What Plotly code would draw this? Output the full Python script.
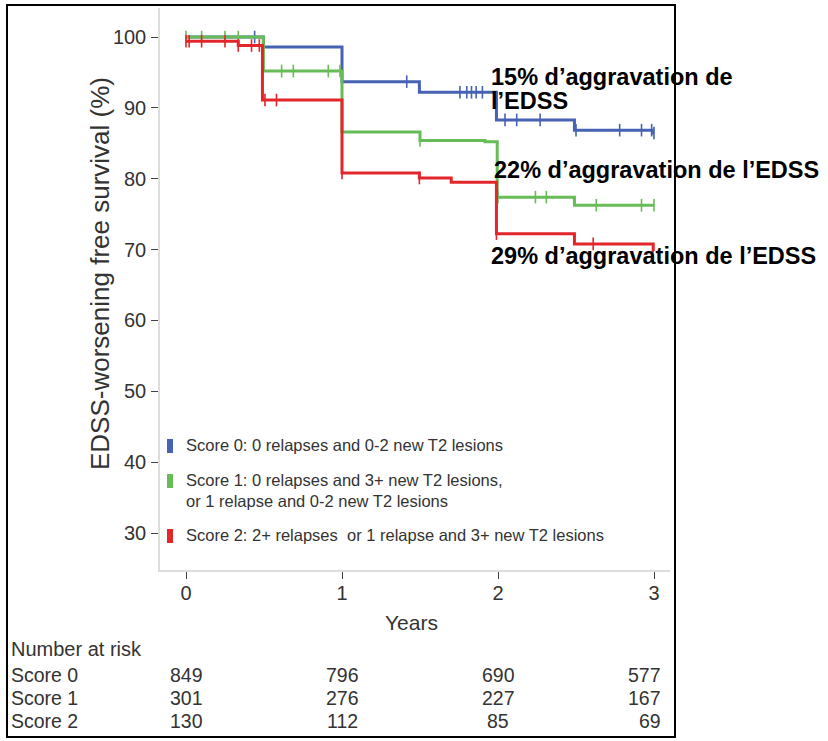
import plotly.graph_objects as go

# ---------------- data ----------------
groups = ["Score 0", "Score 1", "Score 2"]
legend_labels = [
    "Score 0: 0 relapses and 0-2 new T2 lesions",
    "Score 1: 0 relapses and 3+ new T2 lesions,<br>or 1 relapse and 0-2 new T2 lesions",
    "Score 2: 2+ relapses  or 1 relapse and 3+ new T2 lesions",
]
colors = ["#4761B3", "#68BC57", "#E2262B"]

# Kaplan-Meier step points (time in years, survival %)
s0_times = [0.0, 0.496, 1.0, 1.496, 1.99, 2.49, 2.99, 3.0]
s0_surv = [100.0, 98.6, 93.7, 92.2, 88.3, 86.85, 86.45, 86.45]
s1_times = [0.0, 0.496, 1.0, 1.5, 1.917, 1.995, 2.49, 3.0]
s1_surv = [100.0, 95.2, 86.6, 85.4, 85.2, 77.4, 76.25, 76.25]
s2_times = [0.0, 0.335, 0.49, 1.0, 1.496, 1.70, 1.99, 2.49, 2.995, 3.0]
s2_surv = [99.4, 98.8, 91.1, 80.8, 80.1, 79.5, 72.25, 70.8, 69.8, 69.8]

# censoring times
s0_cens = [0.44, 1.415, 1.756, 1.80, 1.83, 1.86, 1.90, 2.045, 2.12, 2.27, 2.50, 2.78, 2.92, 2.985, 3.0]
s1_cens = [0.0, 0.10, 0.25, 0.335, 0.613, 0.688, 0.912, 0.987, 1.0, 1.5, 2.0, 2.24, 2.31, 2.63, 2.92, 3.0]
s2_cens = [0.0, 0.02, 0.10, 0.25, 0.335, 0.42, 0.47, 0.506, 0.58, 1.0, 1.496, 1.99, 2.61]

# number at risk
risk_years = [0, 1, 2, 3]
risk_s0 = [849, 796, 690, 577]
risk_s1 = [301, 276, 227, 167]
risk_s2 = [130, 112, 85, 69]

annot_texts = ["15% d’aggravation de", "l’EDSS",
               "22% d’aggravation de l’EDSS", "29% d’aggravation de l’EDSS"]

y_ticks = [30, 40, 50, 60, 70, 80, 90, 100]
x_ticks = [0, 1, 2, 3]

# ---------------- layout helpers ----------------
W, H = 828, 741
L, R, T, B = 160, 670, 8, 570  # plot area in pixels
FONT = "Liberation Sans, Arial, Helvetica, sans-serif"
TXT = "#333333"


def px(x):
    return (x - L) / (R - L)


def py(y):
    return (B - y) / (B - T)


def step_value(times, surv, t):
    v = surv[0]
    for ti, si in zip(times, surv):
        if ti <= t + 1e-9:
            v = si
    return v


fig = go.Figure()
series = [(s0_times, s0_surv, s0_cens), (s1_times, s1_surv, s1_cens), (s2_times, s2_surv, s2_cens)]
for i, (tt, ss, cc) in enumerate(series):
    fig.add_trace(go.Scatter(x=tt, y=ss, mode="lines", line=dict(color=colors[i], width=3, shape="hv"),
                             name=groups[i], showlegend=False, hoverinfo="skip"))
    fig.add_trace(go.Scatter(x=cc, y=[step_value(tt, ss, c) for c in cc], mode="markers",
                             marker=dict(symbol="line-ns-open", size=9, color=colors[i],
                                         line=dict(color=colors[i], width=1.6)),
                             showlegend=False, hoverinfo="skip"))

annotations = []
shapes = []
# legend (manual)
leg_y = [446, 481, 536]
for i in range(3):
    shapes.append(dict(type="rect", xref="paper", yref="paper",
                       x0=px(167), x1=px(173), y0=py(leg_y[i] + 7), y1=py(leg_y[i] - 7),
                       fillcolor=colors[i], line=dict(width=0)))
    annotations.append(dict(xref="paper", yref="paper", x=px(184), y=py(leg_y[i] - 12),
                            xanchor="left", yanchor="top", align="left", showarrow=False,
                            text=legend_labels[i], font=dict(family=FONT, size=16.5, color=TXT)))

# y-axis title
annotations.append(dict(xref="paper", yref="paper", x=px(100), y=py(274), textangle=-90,
                        xanchor="center", yanchor="middle",
                        showarrow=False, text="EDSS-worsening free survival (%)",
                        font=dict(family=FONT, size=26, color=TXT)))
# x-axis title
annotations.append(dict(xref="paper", yref="paper", x=px(411), y=py(622), showarrow=False,
                        xanchor="center", yanchor="middle",
                        text="Years", font=dict(family=FONT, size=21, color=TXT)))

# risk table
annotations.append(dict(xref="paper", yref="paper", x=px(9), y=py(649), xanchor="left", yanchor="middle",
                        showarrow=False, text="Number at risk", font=dict(family=FONT, size=20, color=TXT)))
row_y = [675, 698, 721]
for r, vals in enumerate([risk_s0, risk_s1, risk_s2]):
    annotations.append(dict(xref="paper", yref="paper", x=px(9), y=py(row_y[r]), xanchor="left",
                            yanchor="middle", showarrow=False, text=groups[r],
                            font=dict(family=FONT, size=19.5, color=TXT)))
    for j, yr in enumerate(risk_years):
        last = j == len(risk_years) - 1
        annotations.append(dict(xref="x", yref="paper", x=yr + (0.058 if last else 0), y=py(row_y[r]),
                                xanchor="right" if last else "center", yanchor="middle",
                                showarrow=False, text=str(vals[j]),
                                font=dict(family=FONT, size=19.5, color=TXT)))

# bold result annotations
ann_pos = [(489, 77), (489, 101), (492, 170), (489, 256)]
for txt, (ax, ay) in zip(annot_texts, ann_pos):
    annotations.append(dict(xref="paper", yref="paper", x=px(ax), y=py(ay), xanchor="left",
                            yanchor="middle", showarrow=False, text="<b>" + txt + "</b>",
                            font=dict(family=FONT, size=23.5, color="black")))

# black frame
shapes.append(dict(type="rect", xref="paper", yref="paper", x0=px(7), x1=px(675), y0=py(737), y1=py(5),
                   line=dict(color="black", width=2), fillcolor="rgba(0,0,0,0)", layer="above"))

fig.update_layout(
    width=W, height=H,
    margin=dict(l=L, r=W - R, t=T, b=H - B),
    paper_bgcolor="white", plot_bgcolor="white",
    showlegend=False,
    xaxis=dict(range=[(L - 186) / 156, (R - 186) / 156], tickvals=x_ticks, ticks="outside", ticklen=7,
               tickcolor="#444444", tickwidth=1, showline=True, linecolor="#dddddd", linewidth=1.5,
               showgrid=False, zeroline=False, ticklabelstandoff=-3,
               tickfont=dict(family=FONT, size=20, color=TXT)),
    yaxis=dict(range=[100 - (B - 37) / 7.086, 100 + (37 - T) / 7.086], tickvals=y_ticks, ticks="outside",
               ticklen=7, tickcolor="#444444", tickwidth=1, showline=True, linecolor="#dddddd",
               linewidth=1.5, showgrid=False, zeroline=False, ticklabelstandoff=1,
               tickfont=dict(family=FONT, size=20, color=TXT)),
    annotations=annotations,
    shapes=shapes,
)

fig.write_html("out.html", config={"displayModeBar": False},
               post_script="document.body.style.margin='0';document.body.style.overflow='hidden';")
